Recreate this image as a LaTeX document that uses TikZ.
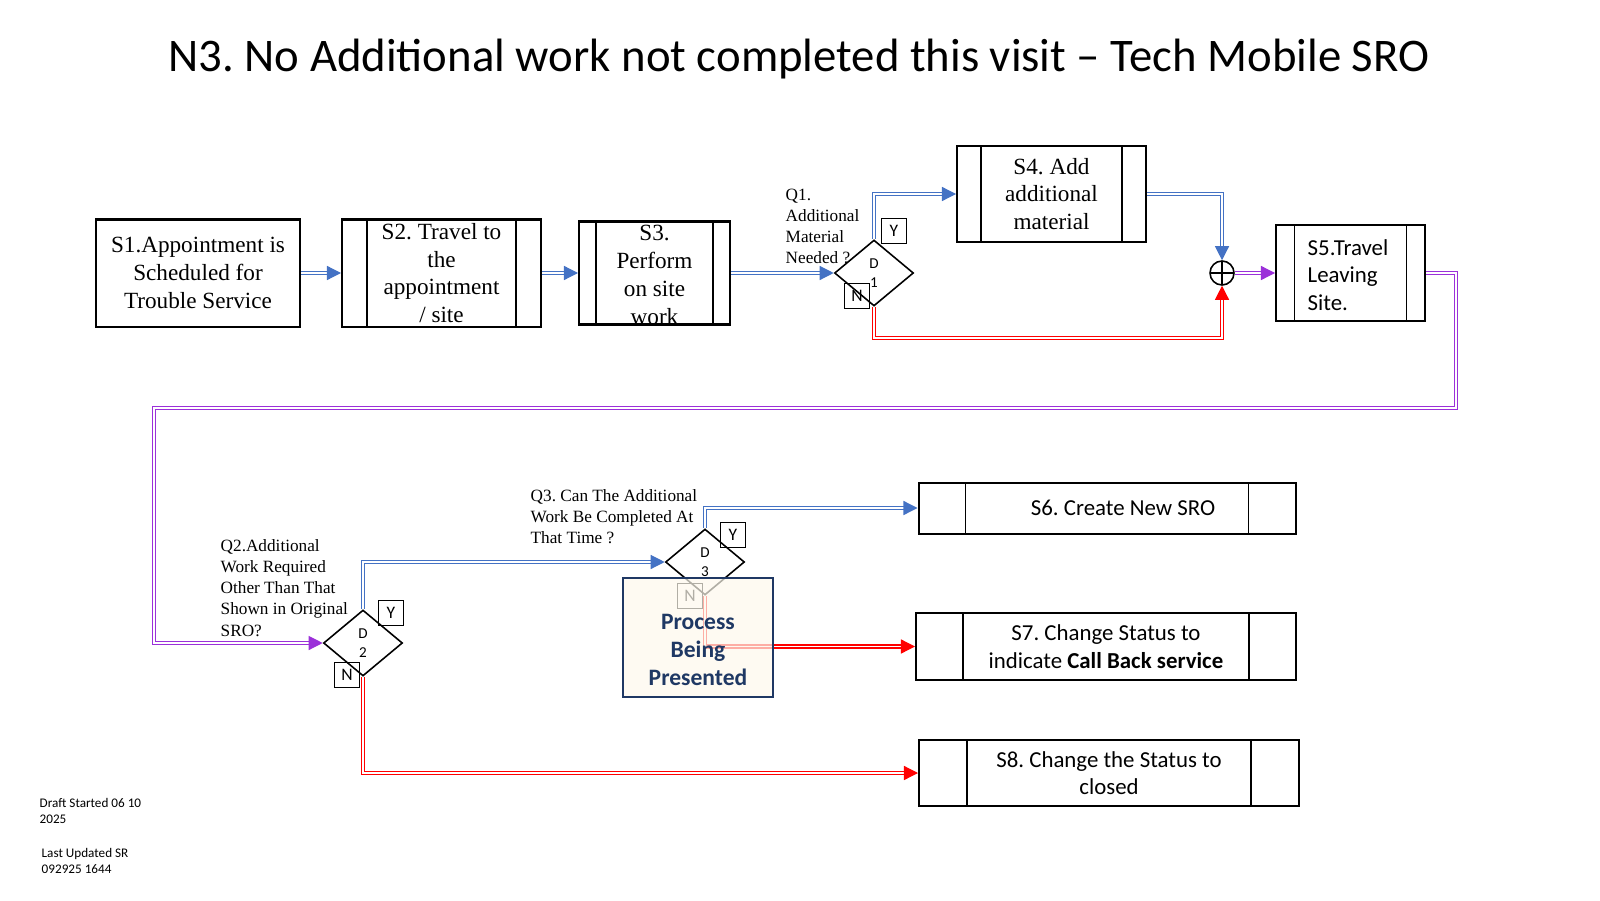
\documentclass[tikz,border=0pt]{standalone}
\usepackage{fontspec}
\setmainfont{Liberation Serif}
\newfontfamily\calib{Carlito}
\usepackage{tikz}
\usepackage{xcolor}
\usetikzlibrary{arrows.meta,shapes.geometric}
\frenchspacing

\definecolor{flowblue}{HTML}{4472C4}
\definecolor{flowred}{HTML}{FF0000}
\definecolor{flowpurple}{HTML}{9B30D9}
\definecolor{navy}{HTML}{1F3864}
\definecolor{cream}{HTML}{FDF8EC}

\tikzset{
  box/.style={draw=black, line width=0.57pt, inner sep=0pt},
  subproc/.style={box, path picture={
      \draw [line width=0.4pt] ([xshift=#1]path picture bounding box.north west) -- ([xshift=#1]path picture bounding box.south west)
        ([xshift=-#1]path picture bounding box.north east) -- ([xshift=-#1]path picture bounding box.south east);}},
  serif/.style={font=\fontsize{6.6}{7.9}\selectfont, align=center, inner sep=0pt},
  sans/.style={font=\calib\fontsize{6.5}{7.8}\selectfont, align=center, inner sep=0pt},
  quest/.style={font=\fontsize{4.9}{6}\selectfont, align=left, anchor=north west, inner sep=0pt},
  decision/.style={diamond, draw=black, line width=0.45pt, minimum width=0.79cm, minimum height=0.66cm, inner sep=0pt, align=center, font=\calib\fontsize{4.3}{5.5}\selectfont},
  yn/.style={draw=black, line width=0.45pt, minimum size=0.25cm, inner sep=0pt, font=\calib\fontsize{5}{5.5}\selectfont},
  joincirc/.style={circle, draw=black, line width=0.45pt, minimum size=0.24cm, inner sep=0pt, path picture={
      \draw [line width=0.45pt] (path picture bounding box.north) -- (path picture bounding box.south)
        (path picture bounding box.west) -- (path picture bounding box.east);}},
  flow/.style={draw=#1, double=white, line width=0.35pt, double distance=0.55pt, -{Triangle[length=4pt,width=4pt]}},
  footnote/.style={font=\calib\fontsize{3.75}{4.4}\selectfont, align=left, anchor=north west, inner sep=0pt}
}

\begin{document}
\begin{tikzpicture}
\useasboundingbox (0,0) rectangle (16,9);
\node [font=\calib\fontsize{13.3}{15}\selectfont, anchor=base] (title) at (7.99,8.28) {N3. No Additional work not completed this visit – Tech Mobile SRO};

% top row
\node [box, minimum width=2.04cm, minimum height=1.07cm, serif] (s1) at (1.98,6.27) {S1.Appointment is\\Scheduled for\\Trouble Service};
\node [subproc=0.25cm, minimum width=1.99cm, minimum height=1.07cm] (s2) at (4.415,6.27) {};
\node [serif] (s2text) at (s2) {S2. Travel to\\the\\appointment\\/ site};
\node [subproc=0.17cm, minimum width=1.51cm, minimum height=1.03cm] (s3) at (6.545,6.27) {};
\node [serif] (s3text) at ([yshift=-0.02cm]s3.center) {S3.\\Perform\\on site\\work};

\node [decision] (d1) at (8.74,6.27) {D\\1};
\node [yn] (d1y) at ([shift={(0.2,0.42)}]d1.center) {Y};
\node [yn] (d1n) at ([shift={(-0.17,-0.23)}]d1.center) {N};
\node [quest] (q1) at (7.85,7.12) {Q1.\\Additional\\Material\\Needed ?};

\node [subproc=0.24cm, minimum width=1.89cm, minimum height=0.96cm, serif] (s4) at (10.515,7.06) {S4. Add\\additional\\material};
\node [joincirc] (join) at (12.22,6.27) {};
\node [subproc=0.185cm, minimum width=1.49cm, minimum height=0.96cm] (s5) at (13.505,6.27) {};
\node [sans, align=left, anchor=west] (s5text) at (13.07,6.25) {S5.Travel\\Leaving\\Site.};

\draw [flow=flowblue] (s1.east) -- (s2.west);
\draw [flow=flowblue] (s2.east) -- (s3.west);
\draw [flow=flowblue] (s3.east) -- (d1.west);
\draw [flow=flowblue] (d1.north) |- (s4.west);
\draw [flow=flowblue] (s4.east) -| (join.north);
\draw [flow=flowred] (d1.south) -- ++(0,-0.31) -| (join.south);
\draw [flow=flowpurple] (join.east) -- (s5.west);

% back to the second row
\coordinate (loop) at (1.54,4.92);
\node [decision] (d2) at (3.63,2.57) {D\\2};
\draw [flow=flowpurple] (s5.east) -- ++(0.30,0) |- (loop) |- (d2.west);
\node [yn] (d2y) at ([shift={(0.28,0.30)}]d2.center) {Y};
\node [yn] (d2n) at ([shift={(-0.16,-0.32)}]d2.center) {N};
\node [quest] (q2) at (2.20,3.61) {Q2.Additional\\Work Required\\Other Than That\\Shown in Original\\SRO?};

\node [decision] (d3) at (7.05,3.38) {D\\3};
\node [yn] (d3y) at ([shift={(0.28,0.27)}]d3.center) {Y};
\node [yn] (d3n) at ([shift={(-0.15,-0.34)}]d3.center) {N};
\node [quest] (q3) at (5.30,4.11) {Q3. Can The Additional\\Work Be Completed At\\That Time ?};

\node [subproc=0.47cm, minimum width=3.77cm, minimum height=0.51cm, sans] (s6) at (11.07,3.92) {\hspace*{0.32cm}S6. Create New SRO};
\node [subproc=0.47cm, minimum width=3.80cm, minimum height=0.67cm, sans] (s7) at (11.06,2.535) {S7. Change Status to\\indicate \textbf{Call Back service}};
\node [subproc=0.48cm, minimum width=3.80cm, minimum height=0.66cm, sans] (s8) at (11.09,1.27) {S8. Change the Status to\\closed};

\draw [flow=flowblue] (d2.north) |- (d3.west);
\draw [flow=flowblue] (d3.north) |- (s6.west);
\draw [flow=flowred] (d3.south) |- (s7.west);
\draw [flow=flowred] (d2.south) |- (s8.west);

% process box lies over D3
\node [draw=navy, line width=0.6pt, fill=cream, fill opacity=0.7, text opacity=1, minimum width=1.50cm, minimum height=1.19cm] (proc) at (6.98,2.625) {};
\node [font=\calib\bfseries\fontsize{6.7}{8}\selectfont, text=navy, align=center, inner sep=0pt] (proctext) at (6.98,2.50) {Process\\Being\\Presented};

\node [footnote] (draft) at (0.39,1.02) {Draft Started 06 10\\2025};
\node [footnote] (updated) at (0.41,0.52) {Last Updated SR\\092925 1644};
\end{tikzpicture}
\end{document}
